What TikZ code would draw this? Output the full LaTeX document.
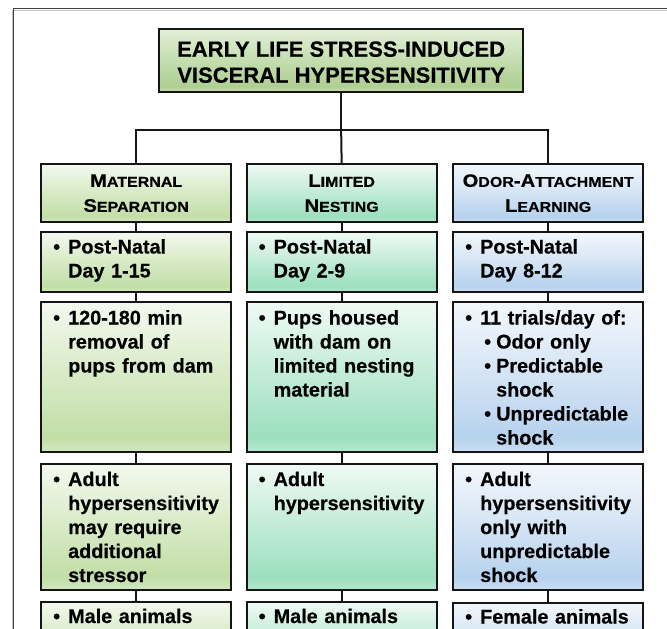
\documentclass[tikz,border=0pt]{standalone}
\usepackage{fontspec}
\setmainfont{Liberation Sans}[BoldFeatures={FakeBold=0.45}]
\newfontfamily\hdrfont{Liberation Sans}[FakeStretch=1.12, BoldFeatures={FakeBold=0.45}]
\definecolor{frameC}{HTML}{404040}
\definecolor{frameL}{HTML}{C4C4C4}
\definecolor{lineC}{HTML}{151515}
% title
\definecolor{tTop}{HTML}{E2EFD6}
\definecolor{tMid}{HTML}{C6DFB2}
\definecolor{tFull}{HTML}{AECF93}
\definecolor{tBot}{HTML}{C2DCAD}
% green
\definecolor{gTop}{HTML}{F4F9EF}
\definecolor{gMid}{HTML}{D9EBC8}
\definecolor{gFull}{HTML}{C2DEA7}
\definecolor{gBot}{HTML}{D3E8C2}
% teal
\definecolor{cTop}{HTML}{EFFAF5}
\definecolor{cMid}{HTML}{C4ECD9}
\definecolor{cFull}{HTML}{9DDFBF}
\definecolor{cBot}{HTML}{B6E8D0}
% blue
\definecolor{bTop}{HTML}{F3F7FC}
\definecolor{bMid}{HTML}{D6E5F5}
\definecolor{bFull}{HTML}{B7D2EE}
\definecolor{bBot}{HTML}{CBDEF3}
\pgfdeclareverticalshading{shT}{100bp}{color(0bp)=(tBot); color(25bp)=(tBot); color(30bp)=(tFull); color(52bp)=(tMid); color(75bp)=(tTop); color(100bp)=(tTop)}
\pgfdeclareverticalshading{shG}{100bp}{color(0bp)=(gBot); color(25bp)=(gBot); color(30bp)=(gFull); color(52bp)=(gMid); color(75bp)=(gTop); color(100bp)=(gTop)}
\pgfdeclareverticalshading{shC}{100bp}{color(0bp)=(cBot); color(25bp)=(cBot); color(30bp)=(cFull); color(52bp)=(cMid); color(75bp)=(cTop); color(100bp)=(cTop)}
\pgfdeclareverticalshading{shB}{100bp}{color(0bp)=(bBot); color(25bp)=(bBot); color(30bp)=(bFull); color(52bp)=(bMid); color(75bp)=(bTop); color(100bp)=(bTop)}
\newcommand\bul{\makebox[15pt][l]{•}}
\newcommand\ind{\hspace*{15pt}}
\newcommand\subbul{\hspace*{19pt}\makebox[12pt][l]{•}}
\newcommand\subind{\hspace*{31pt}}
\newcommand\hdr[2]{{\fontsize{18}{25}\selectfont #1}{\fontsize{14.3}{25}\selectfont #2}}
\tikzset{
  bx/.style={draw=lineC, line width=2.3pt, rectangle, inner sep=0pt, minimum width=190pt, anchor=north west, shade},
  con/.style={draw=lineC, line width=2pt},
  txt/.style={anchor=base west, inner sep=0pt, align=left, text width=180pt, font=\bfseries\fontsize{19.8}{24}\selectfont},
  htxt/.style={inner sep=0pt, align=center, font=\hdrfont\bfseries\fontsize{18}{25}\selectfont},
  ttxt/.style={inner sep=0pt, align=center, font=\bfseries\fontsize{22}{26}\selectfont},
}
\begin{document}
\begin{tikzpicture}[x=1pt,y=-1pt]
\useasboundingbox (0,0) rectangle (667,629);
\clip (0,0) rectangle (667,629);
\fill[white] (0,0) rectangle (667,629);
% frame
\draw[frameL, line width=1pt] (12,10) -- (12,629);
\draw[frameL, line width=1pt] (14,10.2) -- (667,10.2);
\draw[frameC, line width=1.6pt, line cap=rect] (13.5,8.5) -- (667,8.5);
\draw[frameC, line width=1.6pt] (13.5,8.5) -- (13.5,629);
% title
\node[bx, shading=shT, minimum width=364pt, minimum height=63pt] (title) at (158,28) {};
% headers
\node[bx, shading=shG, minimum height=58pt] (h1) at (40,163) {};
\node[bx, shading=shC, minimum height=58pt] (h2) at (245.5,163) {};
\node[bx, shading=shB, minimum height=58pt] (h3) at (452,163) {};
% row 2
\node[bx, shading=shG, minimum height=60pt] (b12) at (40,231) {};
\node[bx, shading=shC, minimum height=60pt] (b22) at (245.5,231) {};
\node[bx, shading=shB, minimum height=60pt] (b32) at (452,231) {};
% row 3
\node[bx, shading=shG, minimum height=150pt] (b13) at (40,301) {};
\node[bx, shading=shC, minimum height=150pt] (b23) at (245.5,301) {};
\node[bx, shading=shB, minimum height=150pt] (b33) at (452,301) {};
% row 4
\node[bx, shading=shG, minimum height=126pt] (b14) at (40,463) {};
\node[bx, shading=shC, minimum height=126pt] (b24) at (245.5,463) {};
\node[bx, shading=shB, minimum height=126pt] (b34) at (452,463) {};
% row 5
\node[bx, shading=shG, minimum height=70pt] (b15) at (40,601) {};
\node[bx, shading=shC, minimum height=70pt] (b25) at (245.5,601) {};
\node[bx, shading=shB, minimum height=70pt] (b35) at (452,601.5) {};
% connectors
\draw[con] (title.south) -- ++(0,37) coordinate (bus);
\draw[con] (h1.north) |- (bus) -| (h3.north);
\draw[con] (bus) -- (h2.north);
\foreach \c in {1,2,3}{
  \draw[con] (h\c.south) -- (b\c2.north);
  \draw[con] (b\c2.south) -- (b\c3.north);
  \draw[con] (b\c3.south) -- (b\c4.north);
  \draw[con] (b\c4.south) -- (b\c5.north);
}
% texts
\node[ttxt] (tt) at ([yshift=-1.5pt]title.center) {EARLY LIFE STRESS-INDUCED\\VISCERAL HYPERSENSITIVITY};
\node[htxt] (ht1) at (h1.center) {\hdr{M}{ATERNAL}\\\hdr{S}{EPARATION}};
\node[htxt] (ht2) at (h2.center) {\hdr{L}{IMITED}\\\hdr{N}{ESTING}};
\node[htxt] (ht3) at (h3.center) {\hdr{O}{DOR}-\hdr{A}{TTACHMENT}\\\hdr{L}{EARNING}};
\node[txt] (t12) at ([xshift=13pt,yshift=-22.5pt]b12.north west) {\bul Post-Natal\\\ind Day 1-15};
\node[txt] (t22) at ([xshift=13pt,yshift=-22.5pt]b22.north west) {\bul Post-Natal\\\ind Day 2-9};
\node[txt] (t32) at ([xshift=13pt,yshift=-22.5pt]b32.north west) {\bul Post-Natal\\\ind Day 8-12};
\node[txt] (t13) at ([xshift=13pt,yshift=-23.5pt]b13.north west) {\bul 120-180 min\\\ind removal of\\\ind pups from dam};
\node[txt] (t23) at ([xshift=13pt,yshift=-23.5pt]b23.north west) {\bul Pups housed\\\ind with dam on\\\ind limited nesting\\\ind material};
\node[txt] (t33) at ([xshift=13pt,yshift=-23.5pt]b33.north west) {\bul 11 trials/day of:\\\subbul Odor only\\\subbul Predictable\\\subind shock\\\subbul Unpredictable\\\subind shock};
\node[txt] (t14) at ([xshift=13pt,yshift=-23pt]b14.north west) {\bul Adult\\\ind hypersensitivity\\\ind may require\\\ind additional\\\ind stressor};
\node[txt] (t24) at ([xshift=13pt,yshift=-23pt]b24.north west) {\bul Adult\\\ind hypersensitivity};
\node[txt] (t34) at ([xshift=13pt,yshift=-23pt]b34.north west) {\bul Adult\\\ind hypersensitivity\\\ind only with\\\ind unpredictable\\\ind shock};
\node[txt] (t15) at ([xshift=13pt,yshift=-22pt]b15.north west) {\bul Male animals};
\node[txt] (t25) at ([xshift=13pt,yshift=-22pt]b25.north west) {\bul Male animals};
\node[txt] (t35) at ([xshift=13pt,yshift=-22pt]b35.north west) {\bul Female animals};
\end{tikzpicture}
\end{document}
